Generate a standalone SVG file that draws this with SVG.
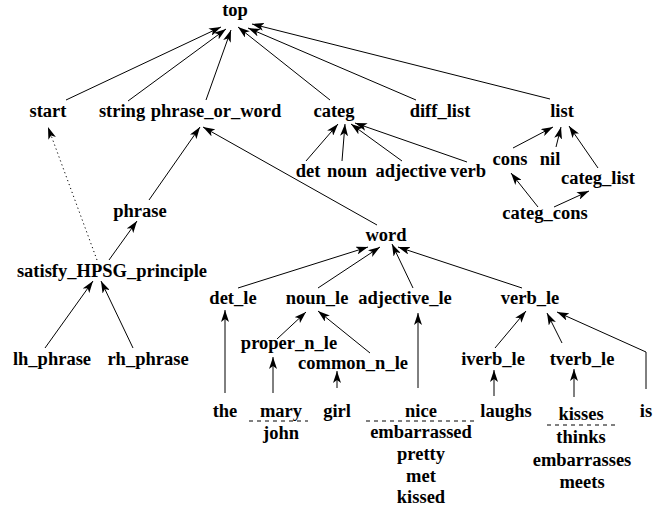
<svg xmlns="http://www.w3.org/2000/svg" width="665" height="512" viewBox="0 0 665 512">
  <style>
    text { font-family: "Liberation Serif", "Times New Roman", serif; font-weight: bold; font-size: 18.5px; fill: #000; text-anchor: middle; }
    .e { stroke: #000; stroke-width: 1; fill: none; marker-end: url(#ah); }
    .dot { stroke-dasharray: 1.2 3; }
    .sep { stroke: #000; stroke-width: 1; stroke-dasharray: 4 4; fill: none; }
  </style>
  <defs>
    <marker id="ah" viewBox="0 0 12 8" refX="12" refY="4" markerWidth="12" markerHeight="8" markerUnits="userSpaceOnUse" orient="auto">
      <path d="M0,0 L12,4 L0,8 L3,4 z" fill="#000"/>
    </marker>
  </defs>
  <rect width="665" height="512" fill="#fff"/>

  <g id="connectors">
    <!-- into top -->
    <line class="e" x1="66" y1="100" x2="221" y2="27"/>
    <line class="e" x1="128" y1="101" x2="226" y2="29"/>
    <line class="e" x1="206" y1="100" x2="231" y2="30"/>
    <line class="e" x1="330" y1="100" x2="238" y2="27"/>
    <line class="e" x1="416" y1="100" x2="248" y2="28"/>
    <line class="e" x1="550" y1="99" x2="252" y2="24"/>
    <!-- into categ -->
    <line class="e" x1="306" y1="161" x2="338" y2="124"/>
    <line class="e" x1="342" y1="161" x2="345" y2="124"/>
    <line class="e" x1="402" y1="161" x2="351" y2="124"/>
    <line class="e" x1="467" y1="162" x2="355" y2="123"/>
    <!-- list family -->
    <line class="e" x1="513" y1="148" x2="553" y2="127"/>
    <line class="e" x1="556" y1="147" x2="561" y2="127"/>
    <line class="e" x1="598" y1="168" x2="569" y2="126"/>
    <line class="e" x1="538" y1="207" x2="511" y2="173"/>
    <line class="e" x1="554" y1="207" x2="589" y2="191"/>
    <!-- phrase_or_word -->
    <line class="e" x1="149" y1="200" x2="200" y2="127"/>
    <line class="e" x1="377" y1="225" x2="203" y2="127"/>
    <!-- satisfy_HPSG_principle -->
    <line class="e" x1="109" y1="260" x2="137" y2="221"/>
    <line class="e dot" x1="97" y1="260" x2="48" y2="127"/>
    <line class="e" x1="45" y1="348" x2="93" y2="281"/>
    <line class="e" x1="133" y1="348" x2="101" y2="281"/>
    <!-- into word -->
    <line class="e" x1="238" y1="288" x2="368" y2="247"/>
    <line class="e" x1="318" y1="288" x2="380" y2="247"/>
    <line class="e" x1="413" y1="288" x2="392" y2="244"/>
    <line class="e" x1="522" y1="288" x2="398" y2="247"/>
    <!-- into noun_le -->
    <line class="e" x1="277" y1="339" x2="306" y2="312"/>
    <line class="e" x1="370" y1="353" x2="318" y2="311"/>
    <!-- lexical entries -->
    <line class="e" x1="225" y1="393" x2="225" y2="310"/>
    <line class="e" x1="273" y1="393" x2="273" y2="357"/>
    <line class="e" x1="337" y1="388" x2="337" y2="371"/>
    <line class="e" x1="418" y1="388" x2="418" y2="313"/>
    <line class="e" x1="494" y1="396" x2="494" y2="370"/>
    <line class="e" x1="574" y1="397" x2="574" y2="369"/>
    <!-- into verb_le -->
    <line class="e" x1="495" y1="348" x2="526" y2="311"/>
    <line class="e" x1="562" y1="343" x2="547" y2="313"/>
    <polyline class="e" points="646,389 646,352 557,312"/>
    <!-- separators between alternative words -->
    <line class="sep" x1="249" y1="421" x2="308" y2="421"/>
    <line class="sep" x1="366" y1="421" x2="478" y2="421"/>
    <line class="sep" x1="547" y1="425" x2="615" y2="425"/>
  </g>

  <g id="n-top"><text x="235" y="16">top</text></g>
  <g id="n-start"><text x="48" y="117">start</text></g>
  <g id="n-string"><text x="122" y="117">string</text></g>
  <g id="n-phrase_or_word"><text x="216" y="117">phrase_or_word</text></g>
  <g id="n-categ"><text x="334" y="117">categ</text></g>
  <g id="n-diff_list"><text x="440" y="117">diff_list</text></g>
  <g id="n-list"><text x="562" y="117">list</text></g>

  <g id="n-det"><text x="308" y="177">det</text></g>
  <g id="n-noun"><text x="347" y="177">noun</text></g>
  <g id="n-adjective"><text x="411" y="177">adjective</text></g>
  <g id="n-verb"><text x="468" y="177">verb</text></g>

  <g id="n-cons"><text x="510" y="165">cons</text></g>
  <g id="n-nil"><text x="550" y="165">nil</text></g>
  <g id="n-categ_list"><text x="598" y="184">categ_list</text></g>
  <g id="n-categ_cons"><text x="545" y="219">categ_cons</text></g>

  <g id="n-phrase"><text x="140" y="217">phrase</text></g>
  <g id="n-word"><text x="386" y="241">word</text></g>
  <g id="n-satisfy"><text x="112" y="277">satisfy_HPSG_principle</text></g>
  <g id="n-lh_phrase"><text x="52" y="365">lh_phrase</text></g>
  <g id="n-rh_phrase"><text x="148" y="365">rh_phrase</text></g>

  <g id="n-det_le"><text x="233" y="304">det_le</text></g>
  <g id="n-noun_le"><text x="317" y="304">noun_le</text></g>
  <g id="n-adjective_le"><text x="405" y="304">adjective_le</text></g>
  <g id="n-verb_le"><text x="530" y="304">verb_le</text></g>

  <g id="n-proper_n_le"><text x="289" y="349">proper_n_le</text></g>
  <g id="n-common_n_le"><text x="353" y="369">common_n_le</text></g>
  <g id="n-iverb_le"><text x="493" y="365">iverb_le</text></g>
  <g id="n-tverb_le"><text x="582" y="365">tverb_le</text></g>

  <g id="w-the"><text x="225" y="417">the</text></g>
  <g id="w-mary"><text x="281" y="417">mary</text><text x="281" y="439">john</text></g>
  <g id="w-girl"><text x="337" y="417">girl</text></g>
  <g id="w-nice">
    <text x="421" y="417">nice</text>
    <text x="421" y="438">embarrassed</text>
    <text x="421" y="460">pretty</text>
    <text x="421" y="482">met</text>
    <text x="421" y="503">kissed</text>
  </g>
  <g id="w-laughs"><text x="506" y="417">laughs</text></g>
  <g id="w-kisses">
    <text x="581" y="420">kisses</text>
    <text x="581" y="443">thinks</text>
    <text x="582" y="466">embarrasses</text>
    <text x="582" y="488">meets</text>
  </g>
  <g id="w-is"><text x="646" y="417">is</text></g>
</svg>
